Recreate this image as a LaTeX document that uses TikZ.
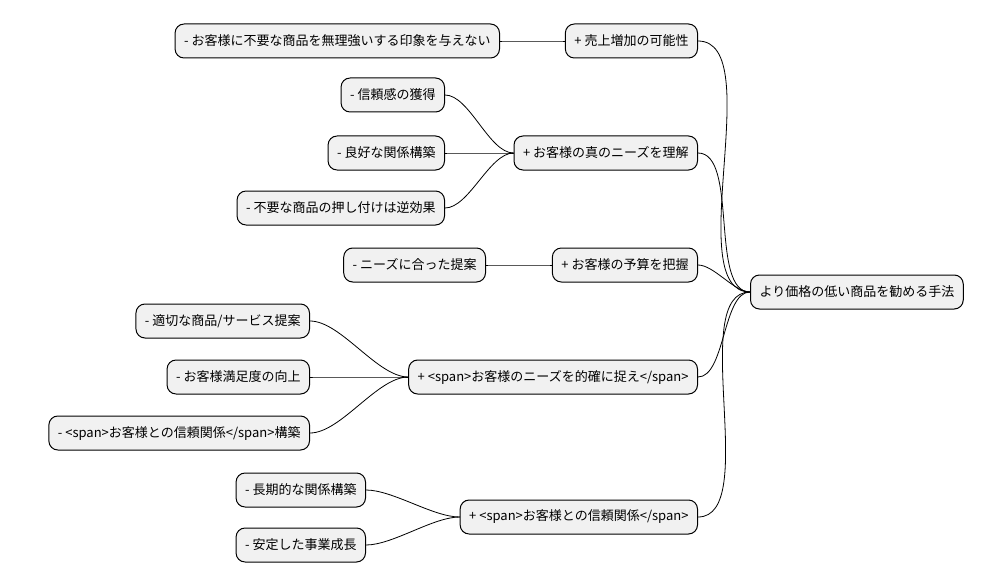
\documentclass[tikz,border=0pt]{standalone}
\usepackage{fontspec}
\setmainfont{Noto Sans CJK JP}
\usepackage{tikz}
\usetikzlibrary{positioning}
\definecolor{boxfill}{HTML}{F1F1F1}

\begin{document}
\begin{tikzpicture}
		[x=1pt,y=-1pt,line cap=round,
		%Styles
		topic/.style={draw,fill=boxfill,rounded corners=9pt,line width=1pt,
			minimum height=34pt,inner xsep=9pt,font=\fontsize{13}{15}\selectfont},
		leaf/.style={topic,anchor=east},
		link/.style={line width=0.8pt,looseness=0.7}
		]
		
		\useasboundingbox (0,0) rectangle (990,583);
		
		%Root
		\node[topic,anchor=west] (root) at (750,292) {より価格の低い商品を勧める手法};
		
		%First level
		\node[leaf] (sales) at (698,41) {+ 売上増加の可能性};
		\node[leaf] (needs) at (698,153) {+ お客様の真のニーズを理解};
		\node[leaf] (budget) at (698,265) {+ お客様の予算を把握};
		\node[leaf] (grasp) at (698,377) {+ <span>お客様のニーズを的確に捉え</span>};
		\node[leaf] (trust) at (698,517) {+ <span>お客様との信頼関係</span>};
		
		%Second level
		\node[leaf] (force) at (500,41) {- お客様に不要な商品を無理強いする印象を与えない};
		\node[leaf] (faith) at (445,95) {- 信頼感の獲得};
		\node[leaf] (relation) at (445,153) {- 良好な関係構築};
		\node[leaf] (push) at (445,208) {- 不要な商品の押し付けは逆効果};
		\node[leaf] (offer) at (486,265) {- ニーズに合った提案};
		\node[leaf] (proper) at (310,321) {- 適切な商品/サービス提案};
		\node[leaf] (satisfy) at (310,377) {- お客様満足度の向上};
		\node[leaf] (bond) at (310,433) {- <span>お客様との信頼関係</span>構築};
		\node[leaf] (longterm) at (366,490) {- 長期的な関係構築};
		\node[leaf] (growth) at (366,545) {- 安定した事業成長};
		
		%Connectors
		\foreach \child in {sales,needs,budget,grasp,trust}
			\draw[link] (\child.east) to[out=0,in=180] (root.west);
		\foreach \child/\parent in {force/sales,faith/needs,relation/needs,push/needs,
				offer/budget,proper/grasp,satisfy/grasp,bond/grasp,longterm/trust,growth/trust}
			\draw[link] (\child.east) to[out=0,in=180] (\parent.west);
	\end{tikzpicture}
\end{document}
